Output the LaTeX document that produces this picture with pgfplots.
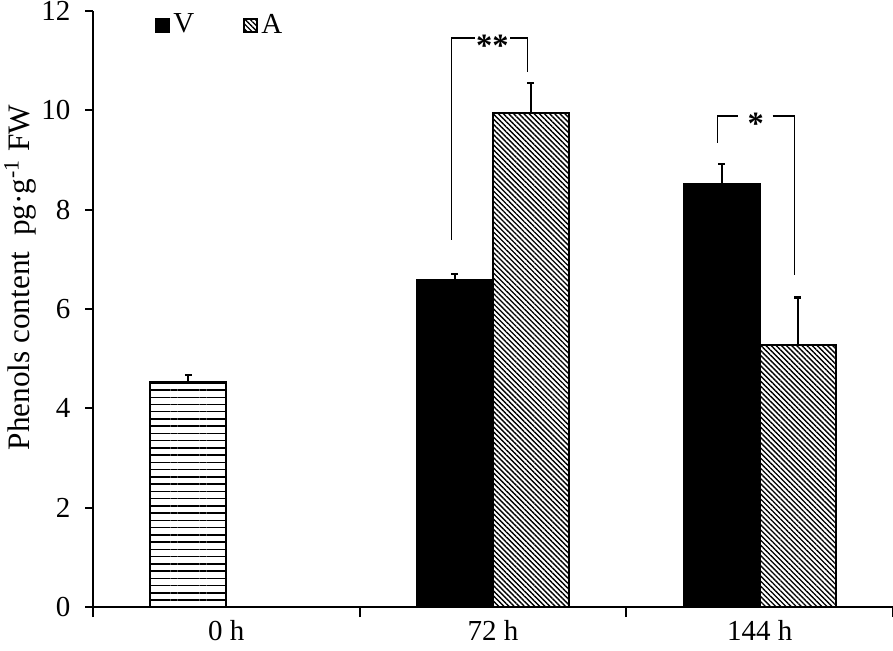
\documentclass[border=0pt]{standalone}
\usepackage{fontspec}
\setmainfont{Liberation Serif}
\usepackage{pgfplots}
\pgfplotsset{compat=1.18}
\usetikzlibrary{patterns.meta}

\pgfplotstableread{
x   y     e
0   4.52  0.15
}\zerodata
\pgfplotstableread{
x   y     e
1   6.58  0.12
2   8.52  0.40
}\Vdata
\pgfplotstableread{
x   y     e
1   9.95  0.60
2   5.28  0.95
}\Adata

\pgfplotsset{myerr/.style={
  error bars/y dir=plus, error bars/y explicit,
  error bars/error bar style={line width=0.7pt, black, solid},
  error bars/error mark options={rotate=90, mark size=1.4pt, line width=0.9pt, black, solid}}}

\begin{document}
\begin{tikzpicture}[font=\fontsize{11.6}{14}\selectfont]
\path[use as bounding box] (-37.2pt,-17.6pt) rectangle (320pt,242.8pt);
\begin{axis}[
  at={(0,0)}, anchor=south west, scale only axis,
  width=320pt, height=238.4pt,
  xmin=-0.5, xmax=2.5, ymin=0, ymax=12,
  axis lines=left,
  axis line style={-, line width=0.7pt},
  every tick/.style={black, line width=0.7pt},
  tick align=outside,
  ytick={0,2,...,12},
  major tick length=3pt,
  xtick={0,1,2},
  xticklabels={0 h,72 h,144 h},
  major x tick style={draw=none},
  minor xtick={-0.5,0.5,1.5,2.5},
  minor tick length=4pt,
  /pgf/number format/assume math mode=true,
  yticklabel style={xshift=-2.5pt},
  xticklabel style={yshift=1pt},
  ylabel={Phenols content\ \ pg·g\textsuperscript{-1} FW},
  ylabel style={at={(axis description cs:-0.091,0.553)}, anchor=center, font=\fontsize{12.5}{14}\selectfont},
  ybar,
  bar width=0.285,
  legend columns=2,
  legend style={draw=none, fill=none, at={(axis description cs:0.077,0.976)}, anchor=west,
    /tikz/every even column/.append style={column sep=18pt},
    inner sep=0pt, nodes={inner sep=1.5pt}},
  legend image code/.code={\draw[#1, line width=0.6pt] (0pt,-2.6pt) rectangle (5.2pt,2.6pt);},
]
\addplot[bar shift=-0.1425, draw=black, line width=0.9pt,
  pattern={Lines[angle=0, distance=2.9pt, line width=0.6pt]}, pattern color=black, forget plot, myerr]
  table[x=x, y=y, y error=e] {\zerodata};
\addplot[bar shift=-0.1425, draw=black, fill=black, line width=0.9pt, myerr]
  table[x=x, y=y, y error=e] {\Vdata};
\addlegendentry{V}
\addplot[bar shift=0.1425, draw=black, line width=0.9pt,
  pattern={Lines[angle=-45, distance=1.45pt, line width=0.55pt]}, pattern color=black, myerr]
  table[x=x, y=y, y error=e] {\Adata};
\addlegendentry{A}

% significance brackets
\draw[line width=0.6pt] (axis cs:0.845,7.39) -- (axis cs:0.845,11.46) -- (axis cs:0.932,11.46);
\draw[line width=0.6pt] (axis cs:1.064,11.46) -- (axis cs:1.130,11.46) -- (axis cs:1.130,10.78);
\node[font=\fontsize{13}{15}\selectfont\bfseries, inner sep=0pt] at (axis cs:0.998,11.30) {**};
\draw[line width=0.6pt] (axis cs:1.841,9.35) -- (axis cs:1.841,9.89) -- (axis cs:1.919,9.89);
\draw[line width=0.6pt] (axis cs:2.049,9.89) -- (axis cs:2.131,9.89) -- (axis cs:2.131,6.68);
\node[font=\fontsize{13}{15}\selectfont\bfseries, inner sep=0pt] at (axis cs:1.985,9.73) {*};
\end{axis}
\end{tikzpicture}
\end{document}
